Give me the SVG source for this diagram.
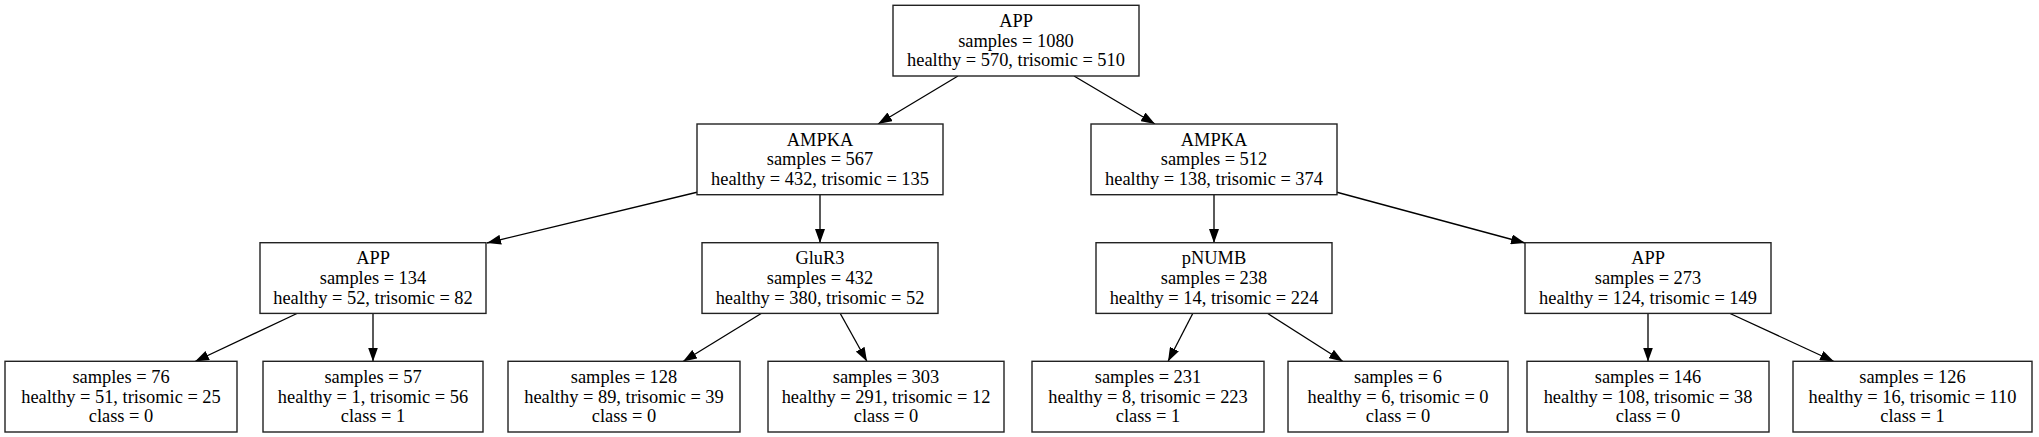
<svg xmlns="http://www.w3.org/2000/svg" width="2039" height="437" viewBox="0 0 2039 437">
<style>
.nd rect{fill:#fff;stroke:#222;stroke-width:1.4}
.nd text{font-family:"Liberation Serif","Times New Roman",serif;font-size:18.4px;fill:#000;text-anchor:middle}
.edges line{stroke:#000;stroke-width:1.3;marker-end:url(#ah)}
</style>
<defs>
<marker id="ah" viewBox="0 0 14 10" refX="14" refY="5" markerWidth="14" markerHeight="10" markerUnits="userSpaceOnUse" orient="auto">
<path d="M0,0 L14,5 L0,10 z" fill="#000"/>
</marker>
</defs>
<rect width="2039" height="437" fill="#fff"/>
<g class="edges">
<line x1="958" y1="76" x2="878" y2="124"/>
<line x1="1074" y1="76" x2="1155" y2="124"/>
<line x1="698" y1="192" x2="487" y2="243"/>
<line x1="820" y1="195" x2="820" y2="243"/>
<line x1="1214" y1="195" x2="1214" y2="243"/>
<line x1="1336" y1="192" x2="1525" y2="243"/>
<line x1="298" y1="313" x2="195" y2="361.5"/>
<line x1="373" y1="313" x2="373" y2="361.5"/>
<line x1="762" y1="313" x2="683" y2="361.5"/>
<line x1="840" y1="313" x2="867" y2="361.5"/>
<line x1="1193" y1="313" x2="1168" y2="361.5"/>
<line x1="1267" y1="313" x2="1343" y2="361.5"/>
<line x1="1648" y1="313" x2="1648" y2="361.5"/>
<line x1="1729" y1="313" x2="1834" y2="361.5"/>
</g>
<g id="n0" class="nd"><rect x="893" y="5.3" width="246" height="70.7"/><text x="1016" y="27">APP</text><text x="1016" y="46.7">samples = 1080</text><text x="1016" y="66.4">healthy = 570, trisomic = 510</text></g>
<g id="n1" class="nd"><rect x="697" y="124" width="246" height="70.7"/><text x="820" y="145.7">AMPKA</text><text x="820" y="165.4">samples = 567</text><text x="820" y="185.1">healthy = 432, trisomic = 135</text></g>
<g id="n8" class="nd"><rect x="1091" y="124" width="246" height="70.7"/><text x="1214" y="145.7">AMPKA</text><text x="1214" y="165.4">samples = 512</text><text x="1214" y="185.1">healthy = 138, trisomic = 374</text></g>
<g id="n2" class="nd"><rect x="260" y="242.7" width="226" height="70.7"/><text x="373" y="264.4">APP</text><text x="373" y="284.1">samples = 134</text><text x="373" y="303.8">healthy = 52, trisomic = 82</text></g>
<g id="n5" class="nd"><rect x="702" y="242.7" width="236" height="70.7"/><text x="820" y="264.4">GluR3</text><text x="820" y="284.1">samples = 432</text><text x="820" y="303.8">healthy = 380, trisomic = 52</text></g>
<g id="n9" class="nd"><rect x="1096" y="242.7" width="236" height="70.7"/><text x="1214" y="264.4">pNUMB</text><text x="1214" y="284.1">samples = 238</text><text x="1214" y="303.8">healthy = 14, trisomic = 224</text></g>
<g id="n12" class="nd"><rect x="1525" y="242.7" width="246" height="70.7"/><text x="1648" y="264.4">APP</text><text x="1648" y="284.1">samples = 273</text><text x="1648" y="303.8">healthy = 124, trisomic = 149</text></g>
<g id="n3" class="nd"><rect x="5" y="361.3" width="232" height="70.7"/><text x="121" y="383">samples = 76</text><text x="121" y="402.6">healthy = 51, trisomic = 25</text><text x="121" y="422.2">class = 0</text></g>
<g id="n4" class="nd"><rect x="263" y="361.3" width="220" height="70.7"/><text x="373" y="383">samples = 57</text><text x="373" y="402.6">healthy = 1, trisomic = 56</text><text x="373" y="422.2">class = 1</text></g>
<g id="n6" class="nd"><rect x="508" y="361.3" width="232" height="70.7"/><text x="624" y="383">samples = 128</text><text x="624" y="402.6">healthy = 89, trisomic = 39</text><text x="624" y="422.2">class = 0</text></g>
<g id="n7" class="nd"><rect x="768" y="361.3" width="236" height="70.7"/><text x="886" y="383">samples = 303</text><text x="886" y="402.6">healthy = 291, trisomic = 12</text><text x="886" y="422.2">class = 0</text></g>
<g id="n10" class="nd"><rect x="1032" y="361.3" width="232" height="70.7"/><text x="1148" y="383">samples = 231</text><text x="1148" y="402.6">healthy = 8, trisomic = 223</text><text x="1148" y="422.2">class = 1</text></g>
<g id="n11" class="nd"><rect x="1288" y="361.3" width="220" height="70.7"/><text x="1398" y="383">samples = 6</text><text x="1398" y="402.6">healthy = 6, trisomic = 0</text><text x="1398" y="422.2">class = 0</text></g>
<g id="n13" class="nd"><rect x="1527" y="361.3" width="242" height="70.7"/><text x="1648" y="383">samples = 146</text><text x="1648" y="402.6">healthy = 108, trisomic = 38</text><text x="1648" y="422.2">class = 0</text></g>
<g id="n14" class="nd"><rect x="1793" y="361.3" width="239" height="70.7"/><text x="1912.5" y="383">samples = 126</text><text x="1912.5" y="402.6">healthy = 16, trisomic = 110</text><text x="1912.5" y="422.2">class = 1</text></g>
</svg>
